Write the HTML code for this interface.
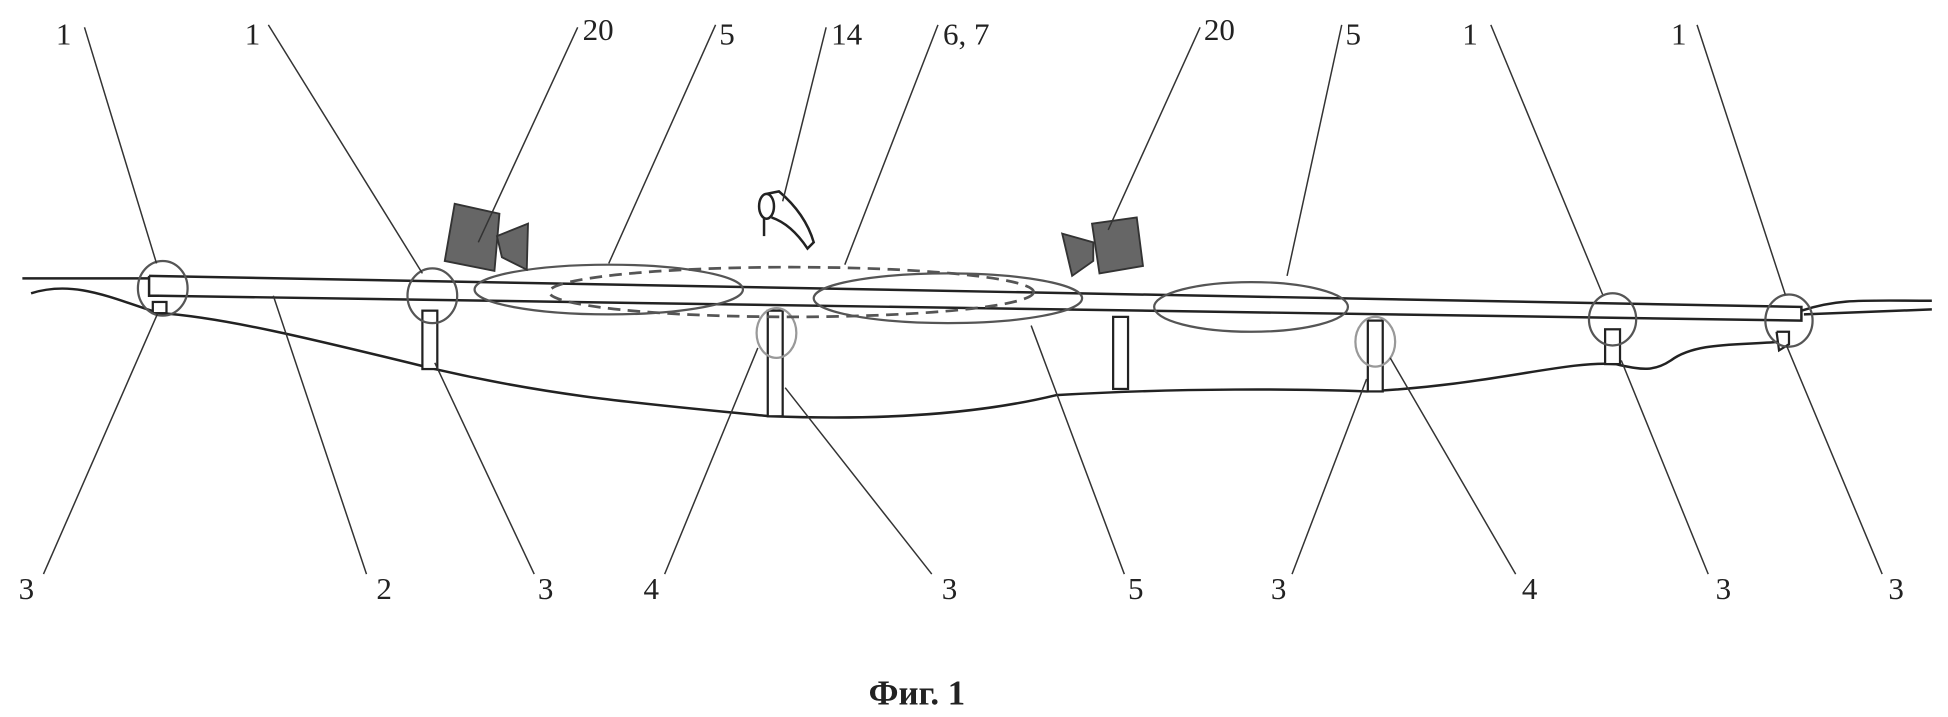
<!DOCTYPE html>
<html><head><meta charset="utf-8"><style>html,body{margin:0;padding:0;background:#fff}svg{display:block}</style></head><body>
<svg width="1948" height="717" viewBox="0 0 1568 577" preserveAspectRatio="none" xmlns="http://www.w3.org/2000/svg">
<g fill="none" stroke="#222" stroke-width="2">
<path d="M18 224 L120 224"/>
<path d="M1450 250 C1480 240 1500 242 1555 242"/>
<path d="M1452 253 L1555 249"/>
<path d="M120 222 L1450 247 L1450 258 L128 238"/>
<path d="M120 222 L120 238 L128 238"/>
<path d="M25 236 C60 225 90 240 128 252 C180 255 260 275 350 297 C450 320 520 325 620 335 C700 338 780 335 850 318 C950 312 1050 313 1100 315 C1200 310 1260 290 1300 293 C1320 297 1330 300 1345 290 C1365 275 1400 278 1432 275"/>
</g>
<g fill="#fff" stroke="#222" stroke-width="1.8">
<rect x="123" y="243" width="11" height="9"/>
<rect x="340" y="250" width="12" height="47"/>
<rect x="618" y="250" width="12" height="85"/>
<rect x="896" y="255" width="12" height="58"/>
<rect x="1101" y="258" width="12" height="57"/>
<rect x="1292" y="265" width="12" height="28"/>
<path d="M1430 267 L1440 267 L1440 277 L1432 282 L1430 267"/>
</g>
<g fill="none" stroke="#555" stroke-width="1.8">
<ellipse cx="131" cy="232" rx="20" ry="22"/>
<ellipse cx="348" cy="238" rx="20" ry="22"/>
<ellipse cx="1298" cy="257" rx="19" ry="21"/>
<ellipse cx="1440" cy="258" rx="19" ry="21"/>
<ellipse cx="490" cy="233" rx="108" ry="20"/>
<ellipse cx="763" cy="240" rx="108" ry="20"/>
<ellipse cx="1007" cy="247" rx="78" ry="20"/>
</g>
<g fill="none" stroke="#999" stroke-width="1.8">
<ellipse cx="625" cy="268" rx="16" ry="20"/>
<ellipse cx="1107" cy="275" rx="16" ry="20"/>
</g>
<ellipse cx="637" cy="235" rx="195" ry="20" fill="none" stroke="#555" stroke-width="2.2" stroke-dasharray="10,6"/>
<g fill="#666" stroke="#333" stroke-width="1.5">
<path d="M366 164 L402 172 L398 218 L358 210 Z"/>
<path d="M400 190 L425 180 L424 217 L404 207 Z"/>
<path d="M879 180 L915 175 L920 214 L885 220 Z"/>
<path d="M855 188 L880 195 L880 210 L863 222 Z"/>
</g>
<g fill="none" stroke="#222" stroke-width="2">
<ellipse cx="617" cy="166" rx="6" ry="10"/>
<path d="M617 156 L627 154 C640 165 650 178 655 195 L650 200 C640 185 630 178 621 175"/>
<path d="M615 176 L615 190"/>
</g>
<g stroke="#333" stroke-width="1.2">
<line x1="68" y1="22" x2="126" y2="212"/>
<line x1="216" y1="20" x2="340" y2="220"/>
<line x1="465" y1="22" x2="385" y2="195"/>
<line x1="576" y1="20" x2="490" y2="212"/>
<line x1="665" y1="22" x2="630" y2="162"/>
<line x1="755" y1="20" x2="680" y2="213"/>
<line x1="966" y1="22" x2="892" y2="185"/>
<line x1="1080" y1="20" x2="1036" y2="222"/>
<line x1="1200" y1="20" x2="1290" y2="237"/>
<line x1="1366" y1="20" x2="1437" y2="237"/>
<line x1="35" y1="462" x2="127" y2="252"/>
<line x1="295" y1="462" x2="220" y2="238"/>
<line x1="430" y1="462" x2="350" y2="292"/>
<line x1="535" y1="462" x2="610" y2="280"/>
<line x1="750" y1="462" x2="632" y2="312"/>
<line x1="905" y1="462" x2="830" y2="262"/>
<line x1="1040" y1="462" x2="1100" y2="305"/>
<line x1="1220" y1="462" x2="1119" y2="288"/>
<line x1="1375" y1="462" x2="1305" y2="290"/>
<line x1="1515" y1="462" x2="1438" y2="278"/>
</g>
<g font-family="Liberation Serif, serif" font-size="25" fill="#222">
<text x="45" y="36">1</text>
<text x="197" y="36">1</text>
<text x="469" y="32">20</text>
<text x="579" y="36">5</text>
<text x="669" y="36">14</text>
<text x="759" y="36">6, 7</text>
<text x="969" y="32">20</text>
<text x="1083" y="36">5</text>
<text x="1177" y="36">1</text>
<text x="1345" y="36">1</text>
<text x="15" y="482">3</text>
<text x="303" y="482">2</text>
<text x="433" y="482">3</text>
<text x="518" y="482">4</text>
<text x="758" y="482">3</text>
<text x="908" y="482">5</text>
<text x="1023" y="482">3</text>
<text x="1225" y="482">4</text>
<text x="1381" y="482">3</text>
<text x="1520" y="482">3</text>
</g>
<text x="738" y="567" font-family="Liberation Serif, serif" font-size="28" font-weight="bold" text-anchor="middle" fill="#222">Фиг. 1</text>
</svg>
</body></html>
